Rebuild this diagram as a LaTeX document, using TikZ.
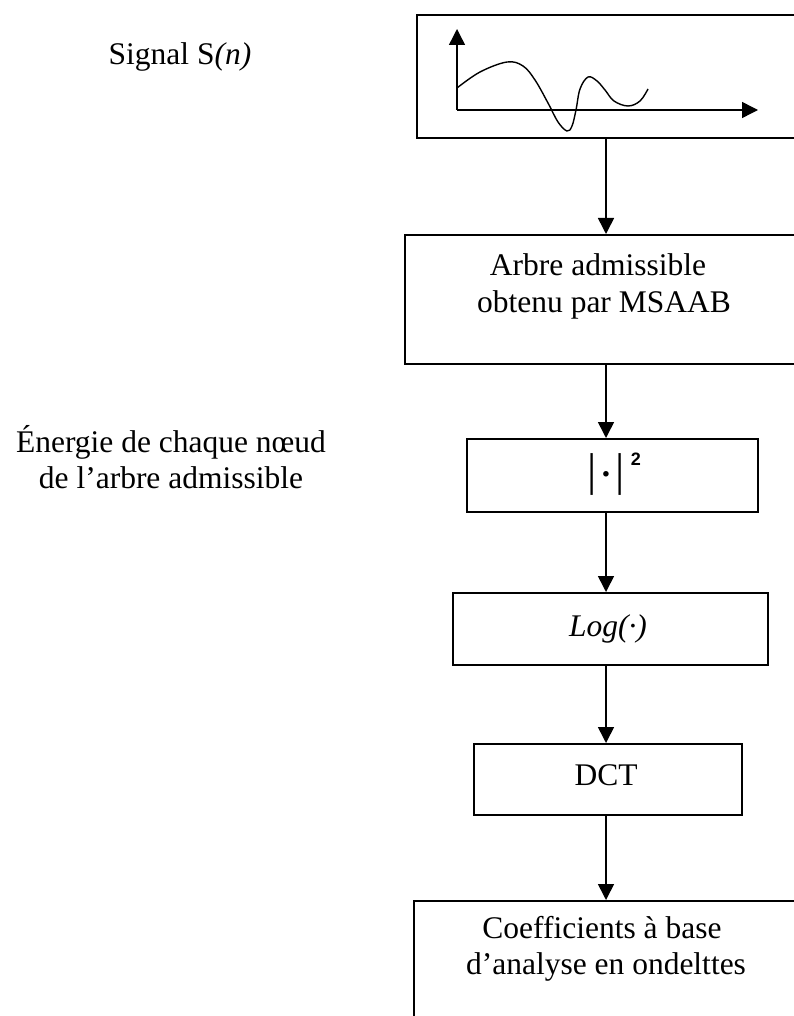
\documentclass[tikz,border=0pt]{standalone}
\usepackage{fontspec}
\setmainfont{Liberation Serif}
\newfontfamily\digitfont{Liberation Sans}
\usetikzlibrary{arrows.meta}
\begin{document}
\begin{tikzpicture}[x=1pt,y=-1pt,
  box/.style={draw,line width=1.6pt,inner sep=0pt,anchor=north west},
  lbl/.style={anchor=base,inner sep=0pt,font=\fontsize{31.5}{36}\selectfont},
  flow/.style={line width=1.6pt,-{Triangle[width=16pt,length=16pt]}},
  axisline/.style={line width=1.4pt,-{Triangle[width=16pt,length=16pt]}}]
\path[use as bounding box, clip] (0,0) rectangle (794,1016);

% processing chain
\node[box,minimum width=400pt,minimum height=123pt] (b1) at (416,14) {};
\node[box,minimum width=412pt,minimum height=129pt] (b2) at (404,234) {};
\node[box,minimum width=291pt,minimum height=73pt]  (b3) at (466,438) {};
\node[box,minimum width=315pt,minimum height=72pt]  (b4) at (452,592) {};
\node[box,minimum width=268pt,minimum height=71pt]  (b5) at (473,743) {};
\node[box,minimum width=400pt,minimum height=140pt] (b6) at (413,900) {};

% connectors along the common axis
\coordinate (ax) at (606,0);
\draw[flow] (b1.south -| ax) -- (b2.north -| ax);
\draw[flow] (b2.south -| ax) -- (b3.north -| ax);
\draw[flow] (b3.south -| ax) -- (b4.north -| ax);
\draw[flow] (b4.south -| ax) -- (b5.north -| ax);
\draw[flow] (b5.south -| ax) -- (b6.north -| ax);

% small signal sketch
\coordinate (o) at (457,110);
\coordinate (ytip) at (457,29);
\coordinate (xtip) at (758,110);
\draw[axisline] (o) -- (ytip);
\draw[axisline] (o) -- (xtip);
\draw[line width=1.4pt] plot[smooth,tension=0.6] coordinates {
  (457,88) (480,72) (507,62) (523,66) (535,80) (548,103) (558,122)
  (567,131) (572,126) (576,110) (580,89) (588,77) (597,81) (605,90)
  (614,101) (628,106) (640,101) (648,89)};

% texts
\node[lbl] (sig) at (180,65) {Signal S\textit{(n)}};
\node[lbl] (e1) at (171,452) {Énergie de chaque nœud};
\node[lbl] (e2) at (171,488) {de l’arbre admissible};
\node[lbl] (arb1) at (598,275) {Arbre admissible};
\node[lbl] (arb2) at (604,312) {obtenu par MSAAB};
\node[anchor=base west,inner sep=0pt] (sq) at (587,485)
  {\fontsize{46}{46}\selectfont|\kern4pt{\fontsize{34}{34}\selectfont\textbf{·}}\kern4pt|%
   \kern6pt\raisebox{20pt}{\fontsize{18}{18}\digitfont\bfseries 2}};
\node[lbl] (lg) at (608,636) {\textit{Log(·)}};
\node[lbl] (dct) at (606,785) {DCT};
\node[lbl] (co1) at (602,938) {Coefficients à base};
\node[lbl] (co2) at (606,974) {d’analyse en ondelttes};
\end{tikzpicture}
\end{document}
